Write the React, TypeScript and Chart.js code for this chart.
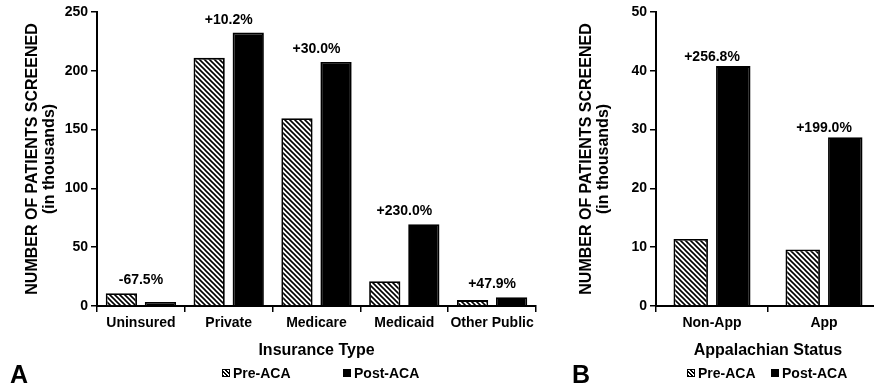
import React, { useEffect, useRef } from "react";
import { Chart, registerables } from "chart.js";

Chart.register(...registerables);

// ---- Data ----
const seriesNames = ["Pre-ACA", "Post-ACA"];
const yAxisTitle = ["NUMBER OF PATIENTS SCREENED", "(in thousands)"];

const insuranceCategories = ["Uninsured", "Private", "Medicare", "Medicaid", "Other Public"];
const insurancePre = [10.8, 211.0, 159.6, 21.1, 5.0];
const insurancePost = [3.5, 232.5, 207.5, 69.6, 7.4];
const insuranceChange = ["-67.5%", "+10.2%", "+30.0%", "+230.0%", "+47.9%"];
const insuranceYTicks = [0, 50, 100, 150, 200, 250];
const insuranceXTitle = "Insurance Type";

const appCategories = ["Non-App", "App"];
const appPre = [11.4, 9.6];
const appPost = [40.8, 28.7];
const appChange = ["+256.8%", "+199.0%"];
const appYTicks = [0, 10, 20, 30, 40, 50];
const appXTitle = "Appalachian Status";

const FONT = "'Liberation Sans', Arial, Helvetica, sans-serif";

function makeHatch(): CanvasPattern | string {
  const n = 5;
  const c = document.createElement("canvas");
  c.width = n;
  c.height = n;
  const g = c.getContext("2d");
  if (!g) return "#888";
  g.fillStyle = "#fff";
  g.fillRect(0, 0, n, n);
  g.strokeStyle = "#000";
  g.lineWidth = 1.6;
  g.beginPath();
  g.moveTo(-1, -1);
  g.lineTo(n + 1, n + 1);
  g.moveTo(-1, n - 1);
  g.lineTo(1, n + 1);
  g.moveTo(n - 1, -1);
  g.lineTo(n + 1, 1);
  g.stroke();
  return g.createPattern(c, "repeat") || "#888";
}

const changeLabelPlugin = {
  id: "changeLabels",
  afterDatasetsDraw(chart: any, _args: any, opts: any) {
    const labels: string[] = (opts && opts.labels) || [];
    const gap: number = (opts && opts.gap) || 8;
    const ctx = chart.ctx;
    const xs = chart.scales.x;
    ctx.save();
    ctx.font = `bold 14px ${FONT}`;
    ctx.fillStyle = "#000";
    ctx.textAlign = "center";
    ctx.textBaseline = "alphabetic";
    labels.forEach((t, i) => {
      let top = Infinity;
      chart.data.datasets.forEach((_d: any, di: number) => {
        const el = chart.getDatasetMeta(di).data[i];
        if (el) top = Math.min(top, el.y);
      });
      ctx.fillText(t, xs.getPixelForValue(i), top - gap);
    });
    ctx.restore();
  },
};

type PanelProps = {
  categories: string[];
  pre: number[];
  post: number[];
  change: string[];
  yTicks: number[];
  xTitle: string;
  width: number;
  yWidth: number;
  padRight: number;
  titlePad: number;
  catPct: number;
  barPct: number;
  labelGap: number;
};

function BarPanel(p: PanelProps) {
  const ref = useRef<HTMLCanvasElement | null>(null);
  useEffect(() => {
    if (!ref.current) return;
    const hatch = makeHatch();
    const chart = new Chart(ref.current, {
      type: "bar",
      data: {
        labels: p.categories,
        datasets: [
          {
            label: seriesNames[0],
            data: p.pre,
            backgroundColor: hatch as any,
            borderColor: "#000",
            borderWidth: 1.8,
            categoryPercentage: p.catPct,
            barPercentage: p.barPct,
          },
          {
            label: seriesNames[1],
            data: p.post,
            backgroundColor: "#000",
            borderColor: "#000",
            borderWidth: 1.8,
            categoryPercentage: p.catPct,
            barPercentage: p.barPct,
          },
        ],
      },
      options: {
        responsive: false,
        animation: false,
        devicePixelRatio: 1,
        layout: { padding: { left: 0, top: 12, right: p.padRight, bottom: 25 } },
        plugins: {
          legend: { display: false },
          tooltip: { enabled: false },
          changeLabels: { labels: p.change, gap: p.labelGap },
        } as any,
        scales: {
          x: {
            ticks: {
              color: "#000",
              font: { family: FONT, size: 14, weight: "bold" },
              padding: 3,
              maxRotation: 0,
              autoSkip: false,
            },
            grid: {
              drawOnChartArea: false,
              drawTicks: true,
              tickLength: 6,
              color: "#000",
              lineWidth: 1.5,
              offset: true,
            },
            border: { display: true, color: "#000", width: 2 },
            title: {
              display: true,
              text: p.xTitle,
              color: "#000",
              font: { family: FONT, size: 16, weight: "bold", lineHeight: 1.2 },
              padding: { top: 0, bottom: 6 },
            },
            afterFit: (s: any) => {
              s.height = 60;
            },
          },
          y: {
            min: p.yTicks[0],
            max: p.yTicks[p.yTicks.length - 1],
            afterBuildTicks: (s: any) => {
              s.ticks = p.yTicks.map((v) => ({ value: v }));
            },
            ticks: {
              color: "#000",
              font: { family: FONT, size: 14, weight: "bold" },
              padding: 3,
            },
            grid: {
              drawOnChartArea: false,
              drawTicks: true,
              tickLength: 6,
              color: "#000",
              lineWidth: 1.5,
            },
            border: { display: true, color: "#000", width: 2 },
            title: {
              display: true,
              text: yAxisTitle,
              color: "#000",
              font: { family: FONT, size: 16, weight: "bold", lineHeight: 1.06 },
              padding: { top: p.titlePad, bottom: 0 },
            },
            afterFit: (s: any) => {
              s.width = p.yWidth;
            },
          },
        },
      },
      plugins: [changeLabelPlugin as any],
    });
    return () => chart.destroy();
  }, []);
  return <canvas ref={ref} width={p.width} height={391} style={{ width: p.width, height: 391, display: "block" }} />;
}

function LegendItem({ x, hatched, text }: { x: number; hatched: boolean; text: string }) {
  return (
    <div style={{ position: "absolute", left: x, top: 366, height: 14, display: "flex", alignItems: "center" }}>
      <span
        style={{
          display: "inline-block",
          width: 8,
          height: 8,
          boxSizing: "border-box",
          border: "1.5px solid #000",
          background: hatched
            ? "repeating-linear-gradient(45deg, #000 0px, #000 1.2px, #fff 1.2px, #fff 2.8px)"
            : "#000",
          marginRight: 3,
        }}
      />
      <span style={{ font: `bold 14px ${FONT}`, lineHeight: "14px", color: "#000" }}>{text}</span>
    </div>
  );
}

export default function App() {
  return (
    <div
      style={{
        position: "absolute",
        left: 0,
        top: 0,
        width: 874,
        height: 391,
        overflow: "hidden",
        background: "#fff",
      }}
    >
      <div style={{ position: "absolute", left: 0, top: 0 }}>
        <BarPanel
          categories={insuranceCategories}
          pre={insurancePre}
          post={insurancePost}
          change={insuranceChange}
          yTicks={insuranceYTicks}
          xTitle={insuranceXTitle}
          width={560}
          yWidth={97}
          padRight={24}
          titlePad={24}
          catPct={0.89}
          barPct={0.8}
          labelGap={9}
        />
      </div>
      <div style={{ position: "absolute", left: 560, top: 0 }}>
        <BarPanel
          categories={appCategories}
          pre={appPre}
          post={appPost}
          change={appChange}
          yTicks={appYTicks}
          xTitle={appXTitle}
          width={330}
          yWidth={96}
          padRight={10}
          titlePad={18.5}
          catPct={0.76}
          barPct={0.81}
          labelGap={5}
        />
      </div>
      <LegendItem x={222} hatched={true} text={seriesNames[0]} />
      <LegendItem x={343} hatched={false} text={seriesNames[1]} />
      <LegendItem x={687} hatched={true} text={seriesNames[0]} />
      <LegendItem x={771} hatched={false} text={seriesNames[1]} />
      <div style={{ position: "absolute", left: 10, top: 362, font: `bold 25px ${FONT}`, lineHeight: "25px", color: "#000" }}>A</div>
      <div style={{ position: "absolute", left: 572, top: 362, font: `bold 25px ${FONT}`, lineHeight: "25px", color: "#000" }}>B</div>
    </div>
  );
}
